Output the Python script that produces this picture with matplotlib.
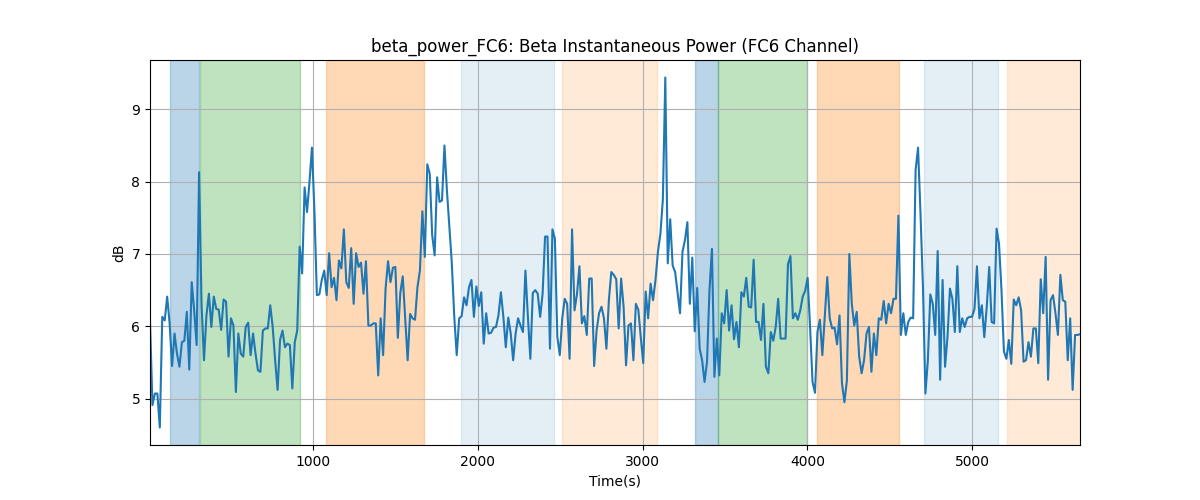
import numpy as np
import matplotlib
matplotlib.use("Agg")
import matplotlib.pyplot as plt

t_start, t_end = 13, 5653

power_db = [
    6.08, 4.91, 5.07, 5.07, 4.60, 6.13, 6.08, 6.41, 6.04, 5.45, 5.90, 5.62, 5.44, 5.78, 5.80, 6.20,
    5.40, 6.61, 6.22, 5.74, 8.13, 6.31, 5.53, 6.15, 6.45, 5.99, 6.41, 6.24, 6.23, 5.95, 6.37, 6.34,
    5.58, 6.11, 6.01, 5.09, 5.90, 5.62, 5.58, 5.99, 6.05, 5.60, 5.90, 5.62, 5.39, 5.37, 5.94, 5.97,
    # segment 2
    5.97, 6.29, 5.99, 5.53, 5.12, 5.81, 5.94, 5.71, 5.76, 5.74, 5.14, 5.78, 5.94, 7.10, 6.73, 7.92,
    7.58, 8.00, 8.47, 7.60, 6.43, 6.44, 6.64, 6.77, 6.43, 7.01, 6.54, 6.67, 6.36, 6.91, 6.80, 7.34,
    6.61, 6.53, 7.08, 6.31, 7.01, 6.82, 6.88, 6.45, 6.90, 6.01, 6.01, 6.04, 6.04, 5.32, 6.11,
    # segment 3
    5.60, 6.52, 6.90, 6.61, 6.81, 6.82, 5.84, 6.46, 6.69, 6.11, 5.53, 6.17, 6.11, 6.09, 6.54, 6.77,
    7.59, 6.96, 8.24, 8.11, 7.26, 6.98, 8.06, 7.72, 7.74, 8.50, 7.88, 7.37, 6.87, 6.13, 5.60, 6.11,
    6.14, 6.40, 6.29, 6.54, 6.64, 6.13, 6.55, 6.28, 6.47, 5.76, 6.18, 5.90, 5.91, 5.98, 5.99, 6.15,
    # segment 4
    6.47, 6.13, 5.71, 6.12, 5.90, 5.53, 5.90, 6.11, 6.01, 5.92, 6.77, 6.13, 5.55, 6.46, 6.50, 6.45,
    6.13, 6.45, 7.24, 7.24, 5.69, 7.34, 7.21, 5.85, 5.60, 6.11, 6.38, 6.31, 5.55, 7.34, 6.22, 6.44,
    6.83, 6.04, 6.14, 5.88, 6.66, 6.66, 5.45, 5.94, 6.18, 6.27, 6.11, 5.69, 6.36, 6.75, 6.71,
    # segment 5
    6.65, 5.97, 6.66, 6.27, 5.46, 6.01, 6.04, 5.53, 6.31, 6.23, 5.85, 5.49, 6.48, 6.11, 6.59, 6.36,
    6.64, 7.03, 7.28, 7.75, 9.44, 6.87, 7.48, 6.84, 6.75, 6.46, 6.18, 7.03, 7.19, 7.44, 6.31, 6.95,
    5.93, 6.53, 5.69, 5.53, 5.23, 5.51, 6.50, 7.07, 5.30, 5.83, 5.32, 6.18, 6.04, 6.50, 5.94,
    # segment 6
    6.29, 5.82, 6.06, 5.71, 6.47, 6.41, 6.67, 6.27, 6.26, 6.92, 6.06, 6.06, 5.81, 6.31, 5.44, 5.35,
    5.92, 5.80, 5.99, 6.38, 5.83, 5.83, 5.83, 6.86, 6.97, 6.11, 6.18, 6.09, 6.22, 6.41, 6.49, 6.67,
    5.99, 5.23, 5.08, 5.92, 6.09, 5.60, 6.15, 6.68, 6.11, 5.97, 5.98, 5.75, 6.15, 5.21, 4.95,
    # segment 7
    5.25, 7.00, 6.31, 6.01, 6.20, 5.58, 5.35, 5.53, 5.90, 5.99, 5.37, 5.90, 5.60, 6.11, 6.09, 6.35,
    6.04, 6.31, 6.18, 6.38, 6.38, 7.53, 5.88, 6.18, 5.88, 6.06, 6.12, 6.11, 8.16, 8.47, 7.56, 6.54,
    5.07, 5.53, 6.44, 6.31, 5.88, 7.04, 5.26, 6.64, 5.44, 5.85, 6.52, 6.38, 5.92, 6.83, 5.92,
    # segment 8
    6.11, 5.99, 6.11, 6.13, 6.13, 6.24, 6.83, 6.11, 6.29, 5.85, 6.27, 6.82, 6.06, 6.04, 7.35, 7.14,
    6.50, 5.65, 5.55, 5.81, 5.48, 6.37, 6.29, 6.40, 6.22, 5.51, 5.53, 5.78, 5.58, 5.97, 5.97, 5.49,
    6.65, 6.18, 6.96, 5.26, 6.36, 6.43, 6.18, 5.88, 6.71, 6.36, 6.34, 5.53, 6.11, 5.12, 5.88, 5.88,
    5.89,
]

span_starts = [135, 315, 1081, 1899, 2512, 3318, 3460, 4060, 4707, 5210]
span_ends = [310, 921, 1673, 2461, 3088, 3460, 3999, 4554, 5154, 5700]
span_colors = ["tab:blue", "tab:green", "tab:orange", "tab:blue", "tab:orange",
               "tab:blue", "tab:green", "tab:orange", "tab:blue", "tab:orange"]
span_alphas = [0.3, 0.3, 0.3, 0.12, 0.16, 0.3, 0.3, 0.3, 0.12, 0.16]

time_s = np.linspace(t_start, t_end, len(power_db))

fig, ax = plt.subplots(figsize=(12, 5), dpi=100)
for s, e, c, a in zip(span_starts, span_ends, span_colors, span_alphas):
    ax.axvspan(s, e, color=c, alpha=a)
ax.plot(time_s, power_db, color="tab:blue", linewidth=1.5)
ax.set_xlim(t_start, t_end)
ax.set_title("beta_power_FC6: Beta Instantaneous Power (FC6 Channel)")
ax.set_xlabel("Time(s)")
ax.set_ylabel("dB")
ax.grid(True)
fig.savefig("out.png", dpi=100)
